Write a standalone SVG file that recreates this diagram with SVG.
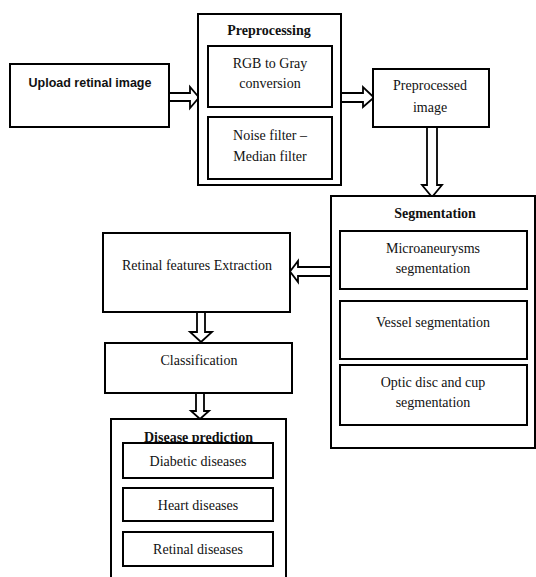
<svg xmlns="http://www.w3.org/2000/svg" width="536" height="577" viewBox="0 0 536 577">
<style>
.box{fill:#fff;stroke:#000;stroke-width:2}
.arr{fill:#fff;stroke:#000;stroke-width:1.8;stroke-linejoin:miter}
.t{font-family:"Liberation Serif","Times New Roman",serif;font-size:14px;fill:#111;text-anchor:middle}
.b{font-weight:bold}
.s{font-family:"Liberation Sans",Arial,sans-serif;font-size:12.5px;font-weight:bold;fill:#111;text-anchor:middle}
</style>
<rect width="536" height="577" fill="#fff"/>
<g id="connectors">
<polygon class="arr" points="169,93 190,93 190,87 199,97.5 190,108 190,101 169,101"/>
<polygon class="arr" points="341,93 363,93 363,87 374,97.5 363,107 363,102 341,102"/>
<polygon class="arr" points="427,127 437,127 437,185 442,185 432,197 422,185 427,185"/>
<polygon class="arr" points="331,267 298,267 298,261 290,271.5 298,282 298,276 331,276"/>
<polygon class="arr" points="197,312 205,312 205,332 212,332 201,342 190,332 197,332"/>
<polygon class="arr" points="196,393 204,393 204,411 209,411 200,419 191,411 196,411"/>
</g>
<g id="upload">
<rect class="box" x="10" y="64" width="159" height="63"/>
<text class="s" x="90" y="87">Upload retinal image</text>
</g>
<g id="preprocessing">
<rect class="box" x="198" y="14" width="143" height="171"/>
<text class="t b" x="269" y="35">Preprocessing</text>
</g>
<g id="rgb">
<rect class="box" x="208" y="46" width="124" height="61"/>
<text class="t" x="270" y="68">RGB to Gray</text>
<text class="t" x="270" y="88">conversion</text>
</g>
<g id="noise">
<rect class="box" x="208" y="117" width="124" height="62"/>
<text class="t" x="270" y="140">Noise filter –</text>
<text class="t" x="270" y="161">Median filter</text>
</g>
<g id="preprocessed">
<rect class="box" x="373" y="69" width="116" height="58"/>
<text class="t" x="430" y="90">Preprocessed</text>
<text class="t" x="430" y="112">image</text>
</g>
<g id="segmentation">
<rect class="box" x="331" y="196" width="204" height="252"/>
<text class="t b" x="435" y="218">Segmentation</text>
</g>
<g id="micro">
<rect class="box" x="340" y="231" width="187" height="58"/>
<text class="t" x="433" y="253">Microaneurysms</text>
<text class="t" x="433" y="273">segmentation</text>
</g>
<g id="vessel">
<rect class="box" x="340" y="301" width="187" height="58"/>
<text class="t" x="433" y="327">Vessel segmentation</text>
</g>
<g id="optic">
<rect class="box" x="340" y="365" width="187" height="60"/>
<text class="t" x="433" y="387">Optic disc and cup</text>
<text class="t" x="433" y="407">segmentation</text>
</g>
<g id="features">
<rect class="box" x="103" y="233" width="187" height="79"/>
<text class="t" x="197" y="270">Retinal features Extraction</text>
</g>
<g id="classification">
<rect class="box" x="105" y="343" width="187" height="50"/>
<text class="t" x="199" y="365">Classification</text>
</g>
<g id="disease">
<rect class="box" x="111" y="419" width="175" height="170"/>
<text class="t b" x="198.5" y="442">Disease prediction</text>
</g>
<g id="diabetic">
<rect class="box" x="123" y="443" width="150" height="35"/>
<text class="t" x="198" y="466">Diabetic diseases</text>
</g>
<g id="heart">
<rect class="box" x="123" y="488" width="150" height="33"/>
<text class="t" x="198" y="510">Heart diseases</text>
</g>
<g id="retinal">
<rect class="box" x="123" y="532" width="150" height="34"/>
<text class="t" x="198" y="554">Retinal diseases</text>
</g>
</svg>
